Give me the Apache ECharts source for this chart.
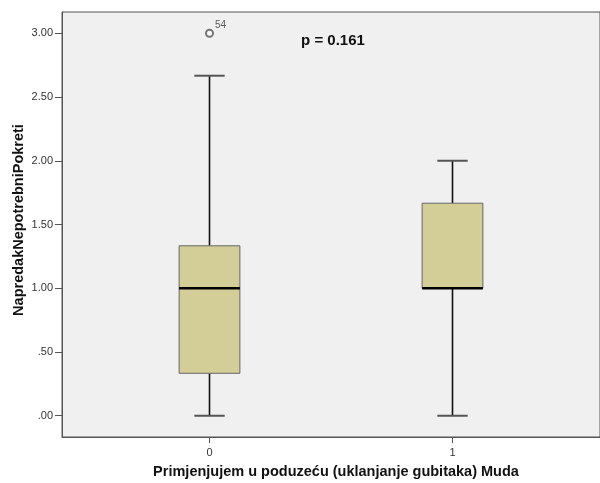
<!DOCTYPE html>
<html>
<head>
<meta charset="utf-8">
<script src="https://cdn.jsdelivr.net/npm/echarts@6/dist/echarts.min.js"></script>
<style>html,body{margin:0;padding:0;background:#fff;}#c{width:600px;height:483px;}</style>
</head>
<body>
<div id="c"></div>
<script>
const categories = [0, 1];
const mins = [0, 0];
const q1s = [0.333, 1.0];
const medians = [1.0, 1.0];
const q3s = [1.333, 1.667];
const maxs = [2.667, 2.0];
const outliers = [[0, 3.0, '54']];
const yTicks = [0, 0.5, 1.0, 1.5, 2.0, 2.5, 3.0];
const yTitle = 'NapredakNepotrebniPokreti';
const xTitle = 'Primjenjujem u poduzeću (uklanjanje gubitaka) Muda';
const pText = 'p = 0.161';

const boxData = categories.map((c, i) => [c, mins[i], q1s[i], medians[i], q3s[i], maxs[i]]);
const FONT = '"Liberation Sans", Arial, sans-serif';

const chart = echarts.init(document.getElementById('c'), null, {renderer: 'canvas'});
chart.setOption({
  animation: false,
  backgroundColor: '#ffffff',
  grid: {left: 62, top: 12, right: -9, bottom: 46, show: true, backgroundColor: '#f0f0f0', borderColor: '#555', borderWidth: 1},
  xAxis: {
    type: 'value', min: -0.607, max: 1.607,
    axisLine: {show: true, onZero: false, lineStyle: {color: '#555', width: 1}},
    axisTick: {show: true, length: 6, inside: false, customValues: categories, lineStyle: {color: '#555'}},
    axisLabel: {customValues: categories, margin: 10, fontFamily: FONT, fontSize: 11, color: '#333', formatter: v => String(v)},
    splitLine: {show: false}
  },
  yAxis: {
    type: 'value', min: -0.1667, max: 3.1667,
    axisLine: {show: true, onZero: false, lineStyle: {color: '#555', width: 1}},
    axisTick: {show: true, length: 7, customValues: yTicks, lineStyle: {color: '#555'}},
    axisLabel: {customValues: yTicks, margin: 9, fontFamily: FONT, fontSize: 11, color: '#333',
      formatter: v => { const s = Number(v).toFixed(2); return s.startsWith('0') ? s.slice(1) : s; }},
    splitLine: {show: false}
  },
  graphic: [{
    type: 'text', x: 333, y: 41,
    style: {text: pText, fontFamily: FONT, fontWeight: 'bold', fontSize: 15, fill: '#111', align: 'center', verticalAlign: 'middle'}
  }, {
    type: 'text', x: 336, y: 472,
    style: {text: xTitle, fontFamily: FONT, fontWeight: 'bold', fontSize: 14.5, fill: '#111', align: 'center', verticalAlign: 'middle'}
  }, {
    type: 'text', x: 19, y: 220, rotation: Math.PI / 2,
    style: {text: yTitle, fontFamily: FONT, fontWeight: 'bold', fontSize: 14.5, fill: '#111', align: 'center', verticalAlign: 'middle'}
  }],
  series: [{
    type: 'custom',
    data: boxData,
    encode: {x: 0, y: [1, 2, 3, 4, 5]},
    renderItem: function (params, api) {
      const x = api.value(0);
      const band = api.size([1, 0])[0];
      const hw = band * 0.125;
      const cw = hw * 0.5;
      const pMin = api.coord([x, api.value(1)]);
      const pQ1 = api.coord([x, api.value(2)]);
      const pMed = api.coord([x, api.value(3)]);
      const pQ3 = api.coord([x, api.value(4)]);
      const pMax = api.coord([x, api.value(5)]);
      const cx = pMin[0];
      const wStyle = {stroke: '#111', lineWidth: 1.6};
      const cStyle = {stroke: '#555', lineWidth: 2};
      return {type: 'group', children: [
        {type: 'line', shape: {x1: cx, y1: pMin[1], x2: cx, y2: pQ1[1]}, style: wStyle},
        {type: 'line', shape: {x1: cx, y1: pQ3[1], x2: cx, y2: pMax[1]}, style: wStyle},
        {type: 'line', shape: {x1: cx - cw, y1: pMin[1], x2: cx + cw, y2: pMin[1]}, style: cStyle},
        {type: 'line', shape: {x1: cx - cw, y1: pMax[1], x2: cx + cw, y2: pMax[1]}, style: cStyle},
        {type: 'rect', shape: {x: cx - hw, y: pQ3[1], width: 2 * hw, height: pQ1[1] - pQ3[1]},
          style: {fill: '#d3cd98', stroke: '#666', lineWidth: 1}},
        {type: 'line', shape: {x1: cx - hw, y1: pMed[1], x2: cx + hw, y2: pMed[1]}, style: {stroke: '#000', lineWidth: 2.5}}
      ]};
    },
    z: 3
  }, {
    type: 'scatter',
    data: outliers,
    symbol: 'emptyCircle', symbolSize: 7,
    itemStyle: {color: '#555', borderColor: '#555', borderWidth: 1.2},
    label: {show: true, position: [10, -9], formatter: p => p.data[2], fontFamily: FONT, fontSize: 10, color: '#333'},
    z: 4
  }]
});
</script>
</body>
</html>
